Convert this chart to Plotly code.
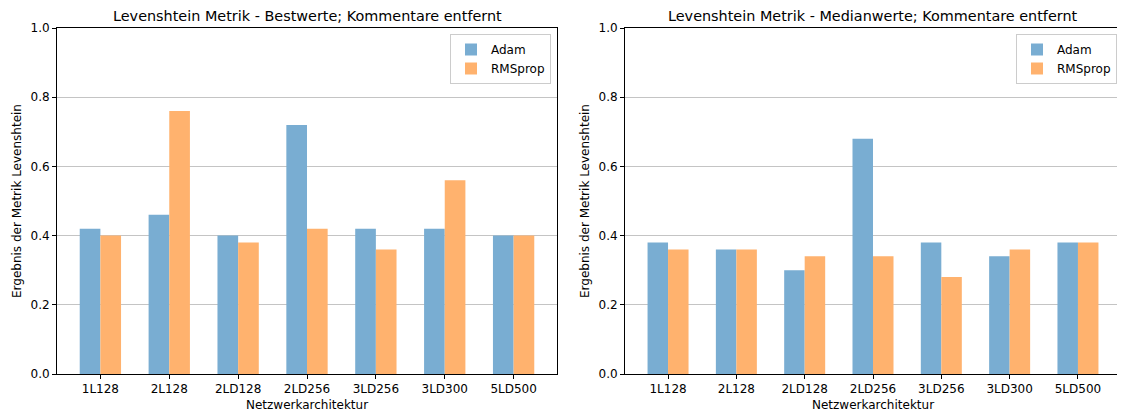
import plotly.graph_objects as go

categories = ["1L128", "2L128", "2LD128", "2LD256", "3LD256", "3LD300", "5LD500"]
best_adam = [0.42, 0.46, 0.40, 0.72, 0.42, 0.42, 0.40]
best_rmsprop = [0.40, 0.76, 0.38, 0.42, 0.36, 0.56, 0.40]
median_adam = [0.38, 0.36, 0.30, 0.68, 0.38, 0.34, 0.38]
median_rmsprop = [0.36, 0.36, 0.34, 0.34, 0.28, 0.36, 0.38]
y_ticks = [0.0, 0.2, 0.4, 0.6, 0.8, 1.0]

titles = ["Levenshtein Metrik - Bestwerte; Kommentare entfernt",
          "Levenshtein Metrik - Medianwerte; Kommentare entfernt"]
x_label = "Netzwerkarchitektur"
y_label = "Ergebnis der Metrik Levenshtein"

# page is rendered with an 8px body margin; size figure to fill the rest
OFF = 8
W, H = 1125 - OFF, 416 - OFF
FONT = "DejaVu Sans"
BLUE = "#79add2"
ORANGE = "#ffb26e"


def fx(px):
    return (px - OFF) / W


def fy(py):
    return 1 - (py - OFF) / H


fig = go.Figure()

panels = [
    (best_adam, best_rmsprop, "x", "y", "legend"),
    (median_adam, median_rmsprop, "x2", "y2", "legend2"),
]
for adam, rms, xa, ya, leg in panels:
    fig.add_trace(go.Bar(x=categories, y=adam, name="Adam", marker_color=BLUE,
                         marker_line_width=0, width=0.3, offset=-0.3,
                         xaxis=xa, yaxis=ya, legend=leg))
    fig.add_trace(go.Bar(x=categories, y=rms, name="RMSprop", marker_color=ORANGE,
                         marker_line_width=0, width=0.3, offset=0.0,
                         xaxis=xa, yaxis=ya, legend=leg))

px0 = [57, 625]
px1 = [557, 1121]
top, bottom = 28, 374
ydom = [fy(bottom), fy(top)]

axis_common = dict(showline=True, linecolor="black", linewidth=1, mirror=True,
                   ticks="outside", ticklen=4, tickcolor="black", automargin=False,
                   tickfont=dict(family=FONT, size=12, color="black"))

for i in range(2):
    sx = "" if i == 0 else str(i + 1)
    fig.layout["xaxis" + sx] = dict(domain=[fx(px0[i]), fx(px1[i])], anchor="y" + sx,
                                    type="category", range=[-0.63, 6.63],
                                    showgrid=False, **axis_common)
    fig.layout["yaxis" + sx] = dict(domain=ydom, anchor="x" + sx, range=[0, 1.0],
                                    tickvals=y_ticks, tickformat=".1f",
                                    showgrid=True, gridcolor="#c4c4c4", gridwidth=1,
                                    zeroline=False, layer="above traces", **axis_common)
    cx = fx((px0[i] + px1[i]) / 2)
    fig.add_annotation(text=titles[i], x=cx, y=fy(16), xref="paper", yref="paper",
                       xanchor="center", yanchor="middle", showarrow=False,
                       font=dict(family=FONT, size=14.4, color="black"))
    fig.add_annotation(text=x_label, x=cx, y=fy(405), xref="paper", yref="paper",
                       xanchor="center", yanchor="middle", showarrow=False,
                       font=dict(family=FONT, size=12, color="black"))
    fig.add_annotation(text=y_label, x=fx(px0[i] - 40), y=(ydom[0] + ydom[1]) / 2,
                       xref="paper", yref="paper", textangle=-90,
                       xanchor="center", yanchor="middle", showarrow=False,
                       font=dict(family=FONT, size=12, color="black"))

leg_common = dict(bgcolor="rgba(255,255,255,0.8)", bordercolor="#cccccc", borderwidth=1,
                  font=dict(family=FONT, size=12, color="black"),
                  xanchor="right", yanchor="top", y=fy(34), traceorder="normal")
fig.update_layout(
    width=W, height=H,
    margin=dict(l=0, r=0, t=0, b=0),
    paper_bgcolor="white", plot_bgcolor="white",
    barmode="overlay",
    font=dict(family=FONT, color="black"),
    legend=dict(x=fx(551), **leg_common),
    legend2=dict(x=fx(1117), **leg_common),
)

fig.write_html("out.html")
